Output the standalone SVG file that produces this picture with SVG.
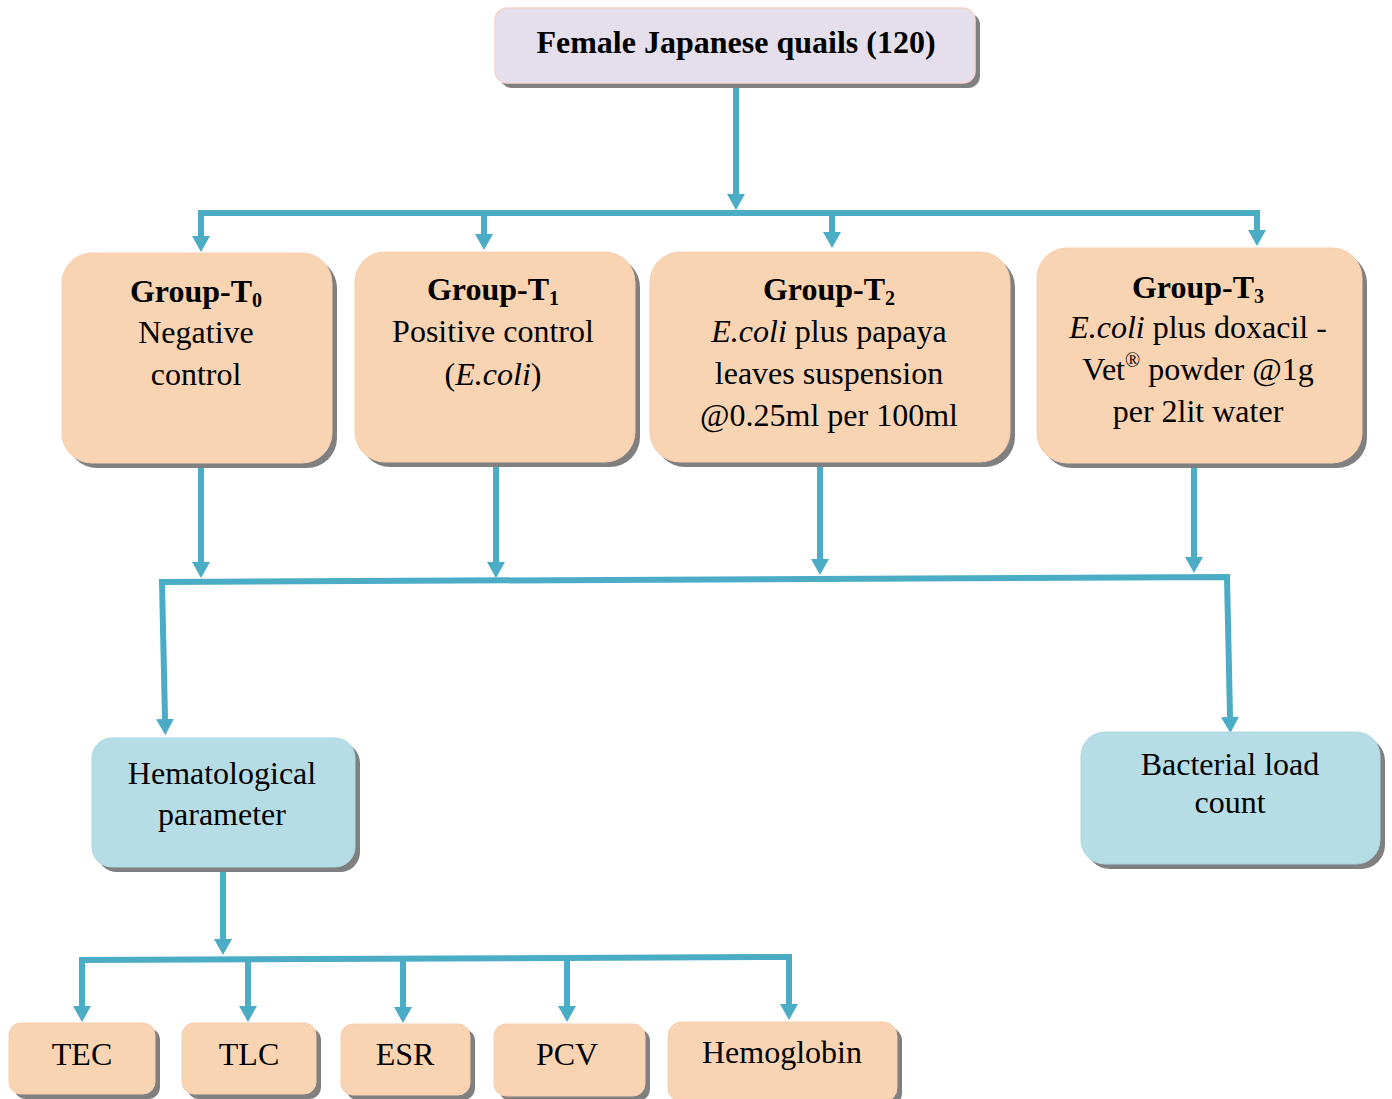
<svg xmlns="http://www.w3.org/2000/svg" width="1392" height="1099" viewBox="0 0 1392 1099">
<defs>
<style>
text{font-family:"Liberation Serif","Times New Roman",serif;font-size:32px;fill:#000;text-anchor:middle}
.b{font-weight:bold}
.i{font-style:italic}
.sub{font-size:20px;font-weight:bold}
.sh{fill:#808080}
.peach{fill:#F9D4B3;stroke:#F6CDB0;stroke-width:1}
.blue{fill:#B6DDE6;stroke:#ADD7E1;stroke-width:1}
.lav{fill:#E5DFEB;stroke:#F3D5CF;stroke-width:1.5}
.c{fill:none;stroke:#4BACC6;stroke-width:6;stroke-linejoin:miter}
</style>
<marker id="ah" viewBox="0 -9 16 18" refX="0" refY="0" markerWidth="16" markerHeight="18" markerUnits="userSpaceOnUse" orient="auto-start-reverse">
<path d="M0,-9 L16,0 L0,9 z" fill="#4BACC6"/>
</marker>
</defs>

<g id="connectors">
<path class="c" d="M736,88 V194" marker-end="url(#ah)"/>
<path class="c" d="M201,236 V213 H1257 V230" marker-start="url(#ah)" marker-end="url(#ah)"/>
<path class="c" d="M484,213 V234" marker-end="url(#ah)"/>
<path class="c" d="M832,213 V232" marker-end="url(#ah)"/>
<path class="c" d="M201,463 V562" marker-end="url(#ah)"/>
<path class="c" d="M496,462 V562" marker-end="url(#ah)"/>
<path class="c" d="M820,462 V559" marker-end="url(#ah)"/>
<path class="c" d="M1194,463 V557" marker-end="url(#ah)"/>
<path class="c" d="M165,719 L162,582 L1227,577 L1230,717" marker-start="url(#ah)" marker-end="url(#ah)"/>
<path class="c" d="M223,867 V939" marker-end="url(#ah)"/>
<path class="c" d="M82,1006 V960 L789,957 V1004" marker-start="url(#ah)" marker-end="url(#ah)"/>
<path class="c" d="M248,959 V1006" marker-end="url(#ah)"/>
<path class="c" d="M403,959 V1007" marker-end="url(#ah)"/>
<path class="c" d="M567,958 V1006" marker-end="url(#ah)"/>
</g>

<g id="n-top">
<rect class="sh" x="500" y="13" width="480" height="75" rx="12"/>
<rect class="lav" x="495" y="8" width="480" height="75" rx="12"/>
<text class="b" x="736" y="53">Female Japanese quails (120)</text>
</g>

<g id="n-t0">
<rect class="sh" x="67" y="258" width="270" height="210" rx="30"/>
<rect class="peach" x="62" y="253" width="270" height="210" rx="30"/>
<text x="196" y="302"><tspan class="b">Group-T</tspan><tspan class="sub" dy="5">0</tspan></text>
<text x="196" y="343">Negative</text>
<text x="196" y="385">control</text>
</g>

<g id="n-t1">
<rect class="sh" x="360" y="257" width="280" height="210" rx="30"/>
<rect class="peach" x="355" y="252" width="280" height="210" rx="30"/>
<text x="493" y="300"><tspan class="b">Group-T</tspan><tspan class="sub" dy="5">1</tspan></text>
<text x="493" y="342">Positive control</text>
<text x="493" y="385">(<tspan class="i">E.coli</tspan>)</text>
</g>

<g id="n-t2">
<rect class="sh" x="655" y="257" width="360" height="210" rx="30"/>
<rect class="peach" x="650" y="252" width="360" height="210" rx="30"/>
<text x="829" y="300"><tspan class="b">Group-T</tspan><tspan class="sub" dy="5">2</tspan></text>
<text x="829" y="342"><tspan class="i">E.coli</tspan> plus papaya</text>
<text x="829" y="384">leaves suspension</text>
<text x="829" y="426">@0.25ml per 100ml</text>
</g>

<g id="n-t3">
<rect class="sh" x="1042" y="253" width="325" height="215" rx="30"/>
<rect class="peach" x="1037" y="248" width="325" height="215" rx="30"/>
<text x="1198" y="298"><tspan class="b">Group-T</tspan><tspan class="sub" dy="5">3</tspan></text>
<text x="1198" y="338"><tspan class="i">E.coli</tspan> plus doxacil -</text>
<text x="1198" y="380">Vet<tspan font-size="20" dy="-13">®</tspan><tspan dy="13"> powder @1g</tspan></text>
<text x="1198" y="422">per 2lit water</text>
</g>

<g id="n-hema">
<rect class="sh" x="97" y="743" width="263" height="129" rx="20"/>
<rect class="blue" x="92" y="738" width="263" height="129" rx="20"/>
<text x="222" y="784">Hematological</text>
<text x="222" y="825">parameter</text>
</g>

<g id="n-bact">
<rect class="sh" x="1086" y="737" width="299" height="132" rx="24"/>
<rect class="blue" x="1081" y="732" width="299" height="132" rx="24"/>
<text x="1230" y="775">Bacterial load</text>
<text x="1230" y="813">count</text>
</g>

<g id="n-tec">
<rect class="sh" x="14" y="1028" width="146" height="71" rx="12"/>
<rect class="peach" x="9" y="1023" width="146" height="71" rx="12"/>
<text x="82" y="1065">TEC</text>
</g>

<g id="n-tlc">
<rect class="sh" x="187" y="1028" width="134" height="71" rx="12"/>
<rect class="peach" x="182" y="1023" width="134" height="71" rx="12"/>
<text x="249" y="1065">TLC</text>
</g>

<g id="n-esr">
<rect class="sh" x="346" y="1029" width="129" height="71" rx="12"/>
<rect class="peach" x="341" y="1024" width="129" height="71" rx="12"/>
<text x="405" y="1065">ESR</text>
</g>

<g id="n-pcv">
<rect class="sh" x="499" y="1029" width="151" height="72" rx="12"/>
<rect class="peach" x="494" y="1024" width="151" height="72" rx="12"/>
<text x="567" y="1065">PCV</text>
</g>

<g id="n-hemo">
<rect class="sh" x="673" y="1027" width="229" height="80" rx="14"/>
<rect class="peach" x="668" y="1022" width="229" height="80" rx="14"/>
<text x="782" y="1063">Hemoglobin</text>
</g>
</svg>
